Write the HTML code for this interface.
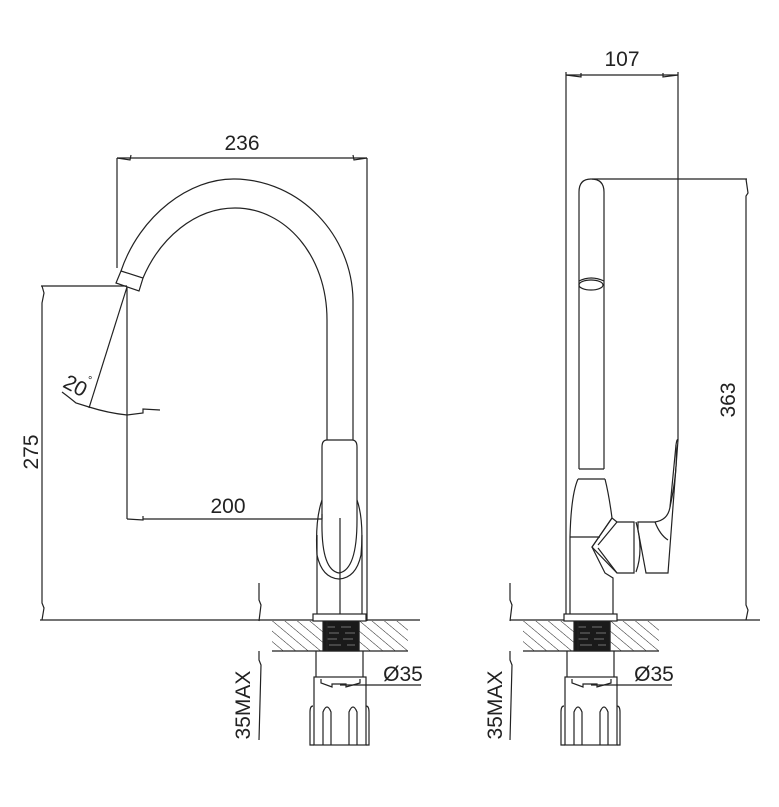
<!DOCTYPE html>
<html><head><meta charset="utf-8"><style>
html,body{margin:0;padding:0;background:#fff}
svg{display:block}
text{font-family:"Liberation Sans","DejaVu Sans",sans-serif;fill:#222}
</style></head><body>
<svg width="779" height="807" viewBox="0 0 779 807" xmlns="http://www.w3.org/2000/svg">
<defs>
<pattern id="h" patternUnits="userSpaceOnUse" width="8" height="8" patternTransform="rotate(-50)">
<line x1="0" y1="0" x2="0" y2="8" stroke="#222" stroke-width="1"/>
</pattern>
<g id="base" fill="none" stroke="#222" stroke-width="1.2">
<rect x="-69" y="621" width="55" height="30" fill="url(#h)" stroke="none"/>
<rect x="18" y="621" width="49" height="30" fill="url(#h)" stroke="none"/>
<line x1="-69" y1="651" x2="67" y2="651"/>
<rect x="-18" y="621" width="36" height="30" fill="#1a1a1a"/>
<g stroke="#888" stroke-width="0.8">
<line x1="-14" y1="627" x2="-6" y2="627"/><line x1="0" y1="627" x2="10" y2="627"/>
<line x1="-12" y1="633" x2="-2" y2="633"/><line x1="4" y1="633" x2="14" y2="633"/>
<line x1="-14" y1="639" x2="-4" y2="639"/><line x1="2" y1="639" x2="12" y2="639"/>
<line x1="-12" y1="645" x2="0" y2="645"/><line x1="6" y1="645" x2="14" y2="645"/>
</g>
<line x1="-14" y1="621" x2="-14" y2="651"/><line x1="18" y1="621" x2="18" y2="651"/>
<rect x="-28" y="614" width="53" height="7" fill="#fff"/>
<line x1="-25" y1="651" x2="-25" y2="677"/><line x1="22" y1="651" x2="22" y2="677"/>
<rect x="-27" y="677" width="52" height="68"/>
<path d="M-20 679 L-20 683 L-9 687 L-9 684 L5 684 L5 687 L19 683 L19 679"/>
<path d="M-27 745 L-31 745 L-31 712 Q-31 706 -28 706"/>
<path d="M25 706 Q28 706 28 712 L28 745 L25 745"/>
<path d="M-18 745 L-18 712 Q-14 702 -10 712 L-10 745"/>
<path d="M8 745 L8 712 Q12 702 16 712 L16 745"/>
</g>
</defs>

<g fill="none" stroke="#222" stroke-width="1.2">
<line x1="117" y1="158" x2="367" y2="158"/>
<line x1="117" y1="158" x2="117" y2="268"/>
<line x1="367" y1="158" x2="367" y2="621"/>
<path d="M117 158 L130 160 L131 155 M367 158 L354 160 L353 155"/>
<path d="M121 271 C140 215 190 178 235 179 C300 180 352 235 353 300 L353 440"/>
<path d="M143 278 C160 238 195 208 235 208 C285 208 327 255 327 320 L327 440"/>
<path d="M121 271 L143 278 L139 291 L116 283 Z"/>
<path d="M327 440 Q322 440 322 447 L322 520 Q321 570 339 573 Q357 570 357 520 L357 447 Q357 440 352 440 Z"/>
<path d="M322 500 Q315 520 317 555 Q322 578 339 579 Q356 578 361 555 Q364 520 357 500"/>
<line x1="317" y1="535" x2="317" y2="614"/>
<line x1="362" y1="535" x2="362" y2="614"/>
<line x1="340" y1="518" x2="340" y2="614"/>
<line x1="41" y1="286" x2="127" y2="286"/>
<path d="M42 286 L44 293 L42 303 L42 603 L44 608 L42 620"/>
<line x1="127" y1="287" x2="127" y2="519"/>
<path d="M127 519 L143 520 L143 516 M143 519 L322 519"/>
<line x1="322" y1="519" x2="322" y2="514"/>
<line x1="127" y1="287" x2="89" y2="408"/>
<path d="M62 392 Q70 398 76 403 L89 407 Q108 413 127 415 L143 413 L143 409 L160 410"/>
<line x1="40" y1="620" x2="420" y2="620"/>
<path d="M259 583 L259 600 L261 605 L259 621 M259 651 L259 660 L261 665 L259 740"/>
<line x1="340" y1="685" x2="421" y2="685"/>

<line x1="566" y1="75" x2="678" y2="75"/>
<line x1="566" y1="72" x2="566" y2="615"/>
<line x1="678" y1="72" x2="678" y2="440"/>
<path d="M566 75 L581 77 L581 73 M678 75 L663 77 L663 73"/>
<line x1="592" y1="179" x2="747" y2="179"/>
<path d="M746 179 L748 193 L746 196 L746 605 L748 610 L746 620"/>
<path d="M579 469 L579 192 Q579 179 591 179 Q604 179 604 192 L604 469"/>
<ellipse cx="591" cy="285" rx="12" ry="5"/>
<path d="M579 281 Q591 275 604 281"/>
<line x1="579" y1="469" x2="604" y2="469"/>
<line x1="578" y1="479" x2="605" y2="479"/>
<path d="M578 479 Q571 495 570 537 L570 614"/>
<path d="M605 479 Q609 495 612 518"/>
<line x1="570" y1="537" x2="600" y2="537"/>
<path d="M612 518 L617 522 L634 522 L634 573 L617 573 L592 547 Z"/>
<path d="M612 518 L592 547 L605 573 L613 578 L613 614"/>
<path d="M598 545 L617 522 M598 548 L617 573"/>
<path d="M638 522 L655 522 Q668 520 670 507 L676 445 Q677 438 678 440 L668 573 L646 573 L638 530 Z"/>
<path d="M636 522 Q644 550 636 572"/>
<path d="M655 522 Q660 535 668 540"/>
<path d="M670 507 Q678 470 676 445"/>
<line x1="510" y1="620" x2="760" y2="620"/>
<path d="M510 583 L510 600 L512 605 L510 621 M510 651 L510 660 L512 665 L510 740"/>
<line x1="591" y1="685" x2="672" y2="685"/>
</g>
<use href="#base" x="341"/>
<use href="#base" x="592"/>

<text x="242" y="150" font-size="21" text-anchor="middle">236</text>
<text x="622" y="66" font-size="21" text-anchor="middle">107</text>
<text x="228" y="513" font-size="21" text-anchor="middle">200</text>
<text x="403" y="681" font-size="21" text-anchor="middle">Ø35</text>
<text x="654" y="681" font-size="21" text-anchor="middle">Ø35</text>
<text transform="translate(38,452) rotate(-90)" font-size="21" text-anchor="middle">275</text>
<text transform="translate(735,400) rotate(-90)" font-size="21" text-anchor="middle">363</text>
<text transform="translate(250,705) rotate(-90)" font-size="21" text-anchor="middle">35MAX</text>
<text transform="translate(502,705) rotate(-90)" font-size="21" text-anchor="middle">35MAX</text>
<text transform="translate(72,392) rotate(28)" font-size="21" text-anchor="middle">20</text>
<text x="88" y="384" font-size="11">°</text>
</svg>
</body></html>
